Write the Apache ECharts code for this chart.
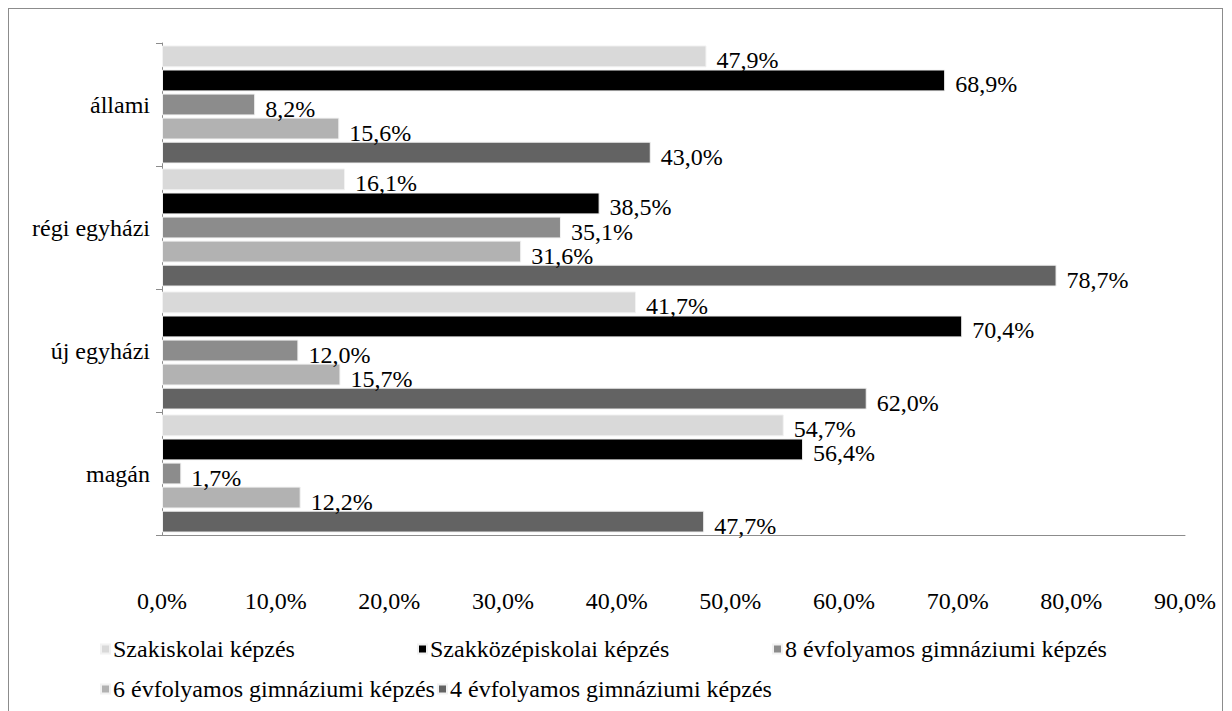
<!DOCTYPE html>
<html>
<head>
<meta charset="utf-8">
<script src="https://cdn.jsdelivr.net/npm/echarts@6/dist/echarts.min.js"></script>
<style>
  html, body { margin: 0; padding: 0; background: #fff; overflow: hidden; }
  #frame { position: absolute; left: 8px; top: 8px; width: 1215px; height: 740px; border: 1px solid #8c8c8c; box-sizing: border-box; }
  #chart { position: absolute; left: 0; top: 0; width: 1232px; height: 711px; }
</style>
</head>
<body>
<div id="frame"></div>
<div id="chart"></div>
<script>
const categories = ["állami", "régi egyházi", "új egyházi", "magán"];
const seriesNames = [
  "Szakiskolai képzés",
  "Szakközépiskolai képzés",
  "8 évfolyamos gimnáziumi képzés",
  "6 évfolyamos gimnáziumi képzés",
  "4 évfolyamos gimnáziumi képzés",
];
const szakiskolai = [47.9, 16.1, 41.7, 54.7];
const szakkozep = [68.9, 38.5, 70.4, 56.4];
const gimn8 = [8.2, 35.1, 12.0, 1.7];
const gimn6 = [15.6, 31.6, 15.7, 12.2];
const gimn4 = [43.0, 78.7, 62.0, 47.7];
const xTicks = [0, 10, 20, 30, 40, 50, 60, 70, 80, 90];

const colors = ["#d9d9d9", "#000000", "#8c8c8c", "#b2b2b2", "#636363"];
const values = [szakiskolai, szakkozep, gimn8, gimn6, gimn4];
const fontFamily = "'Liberation Serif', 'Times New Roman', serif";
const fmt = (v) => v.toFixed(1).replace(".", ",") + "%";

const chart = echarts.init(document.getElementById("chart"), null, { renderer: "svg" });

// one legend per item so each sits where excel put it
const legendPos = [
  { left: 95, top: 632 },
  { left: 412, top: 632 },
  { left: 767, top: 632 },
  { left: 95, top: 672 },
  { left: 432, top: 672 },
];

chart.setOption({
  animation: false,
  grid: { left: 162, right: 47, top: 43, bottom: 176 },
  legend: seriesNames.map((n, i) => ({
    data: [n],
    left: legendPos[i].left,
    top: legendPos[i].top,
    icon: "rect",
    itemWidth: 9,
    itemHeight: 9,
    itemGap: 4,
    selectedMode: false,
    textStyle: { fontFamily, fontSize: 24, color: "#000", padding: [0, 0, 0, -2] },
  })),
  xAxis: {
    type: "value",
    min: 0,
    max: 90,
    interval: 10,
    splitLine: { show: false },
    axisLine: { show: true, lineStyle: { color: "#8c8c8c", width: 1 } },
    axisTick: { show: false },
    axisLabel: {
      margin: 54,
      fontFamily,
      fontSize: 24,
      color: "#000",
      formatter: (v) => (xTicks.includes(v) ? fmt(v) : ""),
    },
  },
  yAxis: {
    type: "category",
    data: categories,
    inverse: true,
    axisLine: { show: true, lineStyle: { color: "#8c8c8c", width: 1 } },
    axisTick: { show: true, length: 6, lineStyle: { color: "#8c8c8c" } },
    axisLabel: { margin: 12, fontFamily, fontSize: 24, color: "#000" },
  },
  series: seriesNames.map((n, i) => ({
    name: n,
    type: "bar",
    data: values[i],
    barGap: "10%",
    barCategoryGap: "4%",
    itemStyle: { color: colors[i], borderColor: "#f2f2f2", borderWidth: 1 },
    label: {
      show: true,
      position: "right",
      distance: 10,
      offset: [0, 4],
      fontFamily,
      fontSize: 24,
      color: "#000",
      formatter: (p) => fmt(p.value),
    },
  })),
});
</script>
</body>
</html>
